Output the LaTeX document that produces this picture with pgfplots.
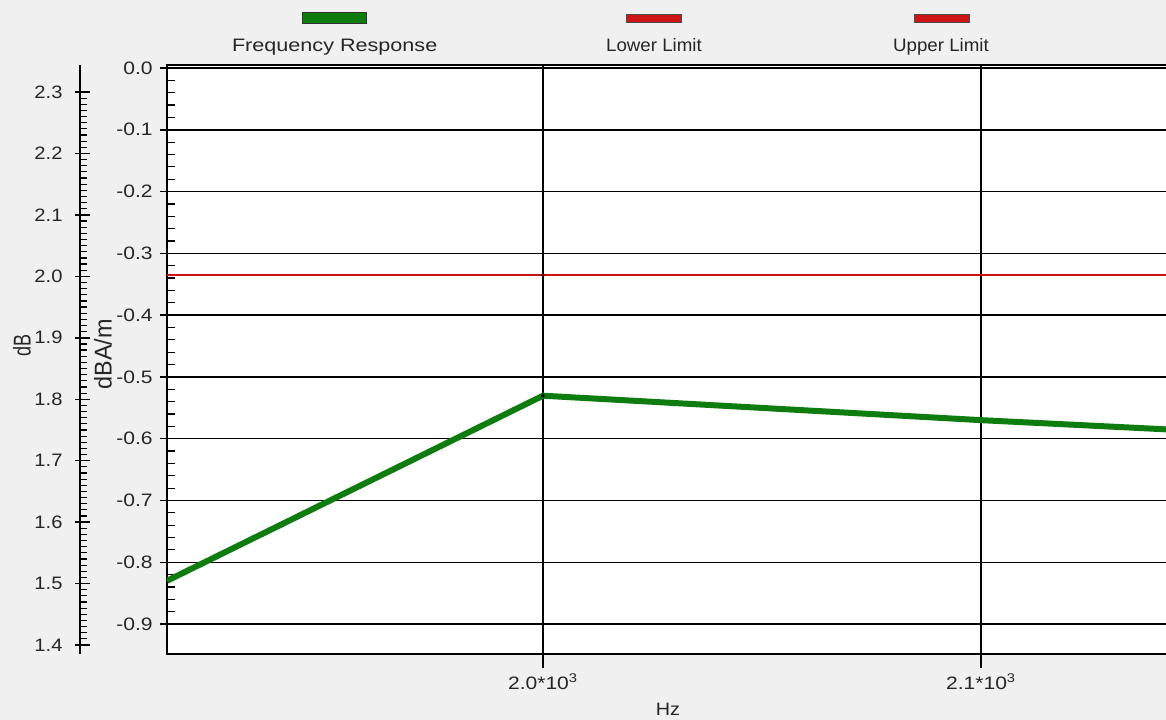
\documentclass[border=0pt]{standalone}
\usepackage{fontspec}
\setmainfont{Liberation Sans}
\usepackage{pgfplots}
\pgfplotsset{compat=1.18}
\definecolor{bg}{RGB}{240,240,240}
\definecolor{fr}{RGB}{14,124,14}
\definecolor{lim}{RGB}{205,20,20}
\definecolor{txt}{RGB}{38,38,38}
\begin{document}
\fontsize{13.5}{16}\selectfont
\begin{tikzpicture}[font=\fontsize{13.5}{16}\selectfont]
\path[use as bounding box] (0,0) rectangle (874.5pt,540pt);
\fill[bg] (0,0) rectangle (874.5pt,540pt);
\clip (0,0) rectangle (874.5pt,540pt);
% legend
\filldraw[fill=fr, draw=black!80, line width=0.6pt] (226.5pt,531pt) rectangle (274.5pt,522.75pt);
\filldraw[fill=lim, draw=black!70, line width=0.6pt] (469.5pt,529.5pt) rectangle (510.75pt,523.5pt);
\filldraw[fill=lim, draw=black!70, line width=0.6pt] (685.5pt,529.5pt) rectangle (726.75pt,523.5pt);
\node[anchor=base, text=txt, inner sep=0pt, xscale=1.2] at (251pt,501pt) {Frequency Response};
\node[anchor=base, text=txt, inner sep=0pt, xscale=1.04] at (490.5pt,501pt) {Lower Limit};
\node[anchor=base, text=txt, inner sep=0pt, xscale=1.04] at (705.75pt,501pt) {Upper Limit};

\begin{axis}[
  scale only axis, width=759.75pt, height=441.75pt,
  at={(125.25pt,49.5pt)}, anchor=south west,
  xmin=1914.16, xmax=2145.43, ymin=-0.9485, ymax=0.0049,
  axis background/.style={fill=white},
  axis line style={black, line width=1.1pt},
  xtick={2000,2100},
  xticklabels={2.0*10\textsuperscript{3},2.1*10\textsuperscript{3}},
  ytick={-0.9,-0.8,-0.7,-0.6,-0.5,-0.4,-0.3,-0.2,-0.1,0},
  yticklabels={-0.9,-0.8,-0.7,-0.6,-0.5,-0.4,-0.3,-0.2,-0.1,0.0},
  minor y tick num=4,
  tick pos=left, tick align=center,
  major tick length=10.5pt, minor tick length=6pt,
  tick style={black, line width=1.1pt},
  minor tick style={xshift=3pt, line width=0.9pt},
  every x tick/.append style={yshift=-5.25pt},
  xmajorgrids, ymajorgrids,
  major grid style={black, line width=1.1pt},
  ticklabel style={text=txt, xscale=1.17},
  x tick label style={yshift=-5pt},
  scaled x ticks=false,
  xlabel={Hz}, ylabel={dBA/m},
  every axis x label/.style={at={(axis description cs:0.4946,0)}, anchor=center, yshift=-41.25pt, text=txt, xscale=1.1},
  every axis y label/.style={at={(axis description cs:0,0.5)}, anchor=center, rotate=90, yshift=48pt, xshift=3.75pt, text=txt, xscale=1.3, yscale=1.35},
]
\addplot[fr, line width=4.5pt, no markers] coordinates {(1914.16,-0.830) (2000,-0.5304) (2100,-0.570) (2145.43,-0.586)};
\addplot[lim, line width=1pt, no markers] coordinates {(1914.16,-0.335) (2145.43,-0.335)};
\addplot[lim, line width=1pt, no markers] coordinates {(1914.16,-0.335) (2145.43,-0.335)};
\addplot[only marks, mark=*, mark size=1.3pt, black] coordinates {(2000,-0.5304)};
\addplot[only marks, mark=*, mark size=1.3pt, color={rgb,255:red,90;green,0;blue,0}] coordinates {(2000,-0.335)};
\end{axis}

\begin{axis}[
  scale only axis, width=1pt, height=441.75pt,
  at={(60pt,49.5pt)}, anchor=south west,
  xmin=0, xmax=1, ymin=1.3854, ymax=2.344,
  hide x axis, axis y line*=left,
  y axis line style={-, black, line width=1.1pt},
  ytick={1.4,1.5,1.6,1.7,1.8,1.9,2.0,2.1,2.2,2.3},
  yticklabels={1.4,1.5,1.6,1.7,1.8,1.9,2.0,2.1,2.2,2.3},
  minor y tick num=9,
  tick align=center,
  major tick length=11.25pt, minor tick length=5.25pt,
  tick style={black, line width=1.1pt},
  major tick style={xshift=1.875pt},
  minor tick style={xshift=2.625pt, line width=0.9pt},
  ticklabel style={text=txt, xscale=1.12},
  y tick label style={xshift=-2pt},
  ylabel={dB},
  every axis y label/.style={at={(axis description cs:0,0.5)}, anchor=center, rotate=90, yshift=43.5pt, xshift=10.5pt, text=txt, yscale=1.35},
]
\addplot[draw=none] coordinates {(0,1.5)};
\end{axis}
\end{tikzpicture}
\end{document}
